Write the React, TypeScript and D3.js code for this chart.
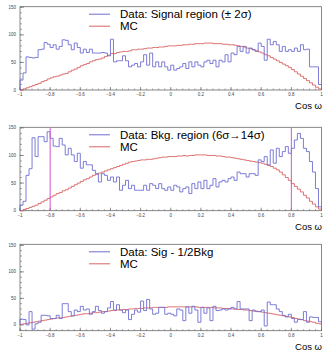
import * as d3 from "d3";

// 100 bins between -1 and 1 (cos omega)
const sigData = [
  18, 31, 60, 59, 58, 59, 73, 74, 86, 83,
  77, 82, 74, 79, 91, 90, 82, 73, 85, 77,
  67, 74, 68, 74, 67, 67, 67, 68, 67, 62,
  92, 51, 53, 53, 62, 53, 42, 45, 48, 42,
  51, 64, 45, 67, 42, 51, 42, 51, 42, 36,
  45, 36, 39, 42, 48, 39, 51, 42, 51, 45,
  42, 51, 54, 48, 54, 42, 54, 51, 64, 51,
  67, 64, 79, 70, 79, 67, 76, 73, 70, 85,
  79, 54, 92, 82, 88, 82, 70, 79, 70, 73,
  70, 76, 70, 82, 73, 74, 42, 42, 42, 10,
];
const sigMC = [
  0, 2, 4, 6, 8, 10, 12, 15, 17, 20,
  22, 24, 25, 27, 29, 30, 33, 36, 38, 41,
  44, 46, 48, 51, 53, 55, 56, 58, 61, 63,
  66, 66, 68, 69, 70, 70, 71, 73, 73, 74,
  74, 75, 76, 76, 77, 77, 78, 78, 79, 80,
  80, 80, 81, 81, 82, 82, 83, 83, 84, 84,
  84, 85, 85, 85, 84, 84, 84, 83, 83, 82,
  82, 81, 80, 79, 78, 76, 75, 73, 71, 69,
  67, 64, 62, 59, 56, 53, 50, 47, 44, 41,
  37, 33, 29, 25, 21, 17, 13, 9, 5, 2,
];
const bkgData = [
  10, 17, 64, 76, 132, 98, 134, 134, 125, 143,
  131, 117, 116, 131, 119, 101, 113, 101, 89, 104,
  77, 89, 83, 83, 73, 67, 52, 67, 64, 55,
  61, 52, 61, 37, 46, 55, 40, 46, 37, 37,
  37, 46, 37, 49, 46, 40, 49, 40, 37, 43,
  37, 46, 43, 34, 40, 43, 31, 49, 40, 52,
  40, 55, 40, 46, 58, 43, 52, 55, 52, 58,
  61, 55, 70, 67, 67, 61, 67, 67, 64, 92,
  89, 98, 83, 110, 86, 113, 98, 107, 116, 104,
  113, 128, 140, 131, 113, 107, 89, 70, 40, 7,
];
const bkgMC = [
  0, 2, 4, 6, 8, 10, 13, 16, 19, 22,
  25, 28, 31, 33, 36, 38, 41, 44, 47, 50,
  53, 56, 58, 61, 64, 66, 68, 70, 72, 74,
  76, 78, 80, 82, 84, 86, 88, 89, 90, 91,
  92, 92, 93, 93, 94, 95, 96, 97, 97, 98,
  98, 98, 99, 99, 100, 99, 100, 100, 101, 101,
  101, 101, 100, 100, 100, 99, 99, 98, 97, 97,
  96, 95, 94, 93, 92, 91, 90, 89, 88, 87,
  86, 84, 82, 80, 77, 74, 70, 65, 60, 55,
  49, 44, 39, 34, 28, 23, 17, 12, 7, 3,
];
const subData = [
  11, 10, 0, 25, -8, 2, 5, 18, 18, 17,
  12, 12, 18, 12, 40, 40, 25, 17, 28, 25,
  35, 28, 30, 20, 25, 35, 27, 22, 25, 32,
  44, 28, 38, 28, 23, 28, 10, 20, 28, 24,
  45, 27, 48, 30, 20, 22, 33, 33, 20, 22,
  20, 17, 30, 28, 8, 34, 22, 35, 28, 5,
  33, 22, 32, 8, 35, 27, 28, 30, 28, 30,
  33, 30, 44, 30, 30, 30, 8, 28, 25, 25,
  28, -2, 43, 38, 38, 30, 25, 18, 15, 20,
  12, 5, 10, 10, 25, 5, 15, 14, 14, 6,
];
const subMC = [
  1, 2, 3, 4, 5, 6, 7, 8, 9, 10,
  11, 12, 13, 13, 14, 15, 16, 17, 18, 19,
  20, 21, 21, 22, 23, 23, 24, 25, 25, 26,
  27, 27, 28, 28, 29, 29, 30, 30, 31, 31,
  31, 32, 32, 32, 33, 33, 33, 33, 33, 34,
  34, 34, 34, 34, 34, 34, 34, 34, 34, 33,
  33, 33, 33, 33, 32, 32, 32, 31, 31, 31,
  30, 30, 29, 29, 28, 28, 27, 26, 26, 25,
  24, 23, 22, 21, 20, 19, 18, 17, 16, 15,
  14, 12, 11, 10, 8, 7, 6, 5, 3, 2,
];

const xTicks = [-1, -0.8, -0.6, -0.4, -0.2, 0, 0.2, 0.4, 0.6, 0.8, 1];
const yTicks = [0, 50, 100, 150];
const cutLines = [-0.8, 0.8];
const legendLabels = [
  "Data: Signal region (\u00b1 2\u03c3)",
  "Data: Bkg. region (6\u03c3\u219214\u03c3)",
  "Data: Sig - 1/2Bkg",
];
const mcLabel = "MC";
const xTitle = "Cos \u03c9";

const DATA_COLOR = "#6e6ed2";
const MC_COLOR = "#d96464";
const CUT_COLOR = "#d055d0";
const AXIS_COLOR = "#6a6a6a";
const FONT = "'Liberation Sans', Arial, sans-serif";

const edges = d3.range(101).map((i) => -1 + i * 0.02);

function histPath(vals: number[], x: d3.ScaleLinear<number, number>, y: d3.ScaleLinear<number, number>) {
  const pts: [number, number][] = [[-1, 0]];
  vals.forEach((v, i) => pts.push([edges[i], v]));
  pts.push([1, vals[vals.length - 1]]);
  pts.push([1, 0]);
  return d3
    .line<[number, number]>()
    .x((d) => x(d[0]))
    .y((d) => y(d[1]))
    .curve(d3.curveStepAfter)(pts) || "";
}

interface PanelProps {
  top: number;
  bottom: number;
  yMin: number;
  yMax: number;
  data: number[];
  mc: number[];
  label: string;
  cuts?: number[];
}

function Panel({ top, bottom, yMin, yMax, data, mc, label, cuts }: PanelProps) {
  const left = 20;
  const right = 321.5;
  const x = d3.scaleLinear().domain([-1, 1]).range([left, right]);
  const y = d3.scaleLinear().domain([yMin, yMax]).range([bottom, top]);

  const minorX = d3.range(0, 51).map((i) => -1 + i * 0.04);
  const minorY = d3.range(Math.ceil(yMin / 10) * 10, yMax, 10);
  const fmt = (v: number) => (Math.abs(v) < 1e-9 ? "0" : d3.format("~g")(+v.toFixed(1)));

  return (
    <g>
      {/* frame */}
      <rect x={left} y={top} width={right - left} height={bottom - top} fill="none" stroke={AXIS_COLOR} strokeWidth={0.8} />

      {/* x ticks */}
      {minorX.map((t, i) => (
        <line key={"mx" + i} x1={x(t)} x2={x(t)} y1={bottom} y2={bottom - 1.5} stroke={AXIS_COLOR} strokeWidth={0.6} />
      ))}
      {xTicks.map((t) => (
        <g key={"x" + t}>
          <line x1={x(t)} x2={x(t)} y1={bottom} y2={bottom - 3} stroke={AXIS_COLOR} strokeWidth={0.7} />
          <text x={x(t)} y={bottom + 6} fontSize={4.5} fill="#444" textAnchor="middle" fontFamily={FONT}>
            {fmt(t)}
          </text>
        </g>
      ))}

      {/* y ticks */}
      {minorY.map((t) => (
        <line key={"my" + t} x1={left} x2={left + 2} y1={y(t)} y2={y(t)} stroke={AXIS_COLOR} strokeWidth={0.6} />
      ))}
      {yTicks.map((t) => (
        <g key={"y" + t}>
          <line x1={left} x2={left + 4} y1={y(t)} y2={y(t)} stroke={AXIS_COLOR} strokeWidth={0.7} />
          <text x={left - 4} y={y(t)} dy="0.35em" fontSize={4.5} fill="#444" textAnchor="end" fontFamily={FONT}>
            {t}
          </text>
        </g>
      ))}

      {/* histograms */}
      <path d={histPath(mc, x, y)} fill="none" stroke={MC_COLOR} strokeWidth={0.9} />
      <path d={histPath(data, x, y)} fill="none" stroke={DATA_COLOR} strokeWidth={0.9} />

      {(cuts || []).map((c) => (
        <line key={"c" + c} x1={x(c)} x2={x(c)} y1={top} y2={bottom} stroke={CUT_COLOR} strokeWidth={1} />
      ))}

      {/* legend */}
      <line x1={89} x2={110} y1={top + 7.5} y2={top + 7.5} stroke={DATA_COLOR} strokeWidth={1} />
      <text x={120} y={top + 7.5} dy="0.35em" fontSize={11.5} fontFamily={FONT} fill="#000">
        {label}
      </text>
      <line x1={89} x2={110} y1={top + 19.5} y2={top + 19.5} stroke={MC_COLOR} strokeWidth={1} />
      <text x={120} y={top + 19.5} dy="0.35em" fontSize={11.5} fontFamily={FONT} fill="#000">
        {mcLabel}
      </text>

      <text x={322} y={bottom + 16} dy="0.35em" fontSize={9.5} fontFamily={FONT} textAnchor="end" fill="#000">
        {xTitle}
      </text>
    </g>
  );
}

export default function App() {
  return (
    <div style={{ position: "absolute", left: 0, top: 0 }}>
      <svg width={323} height={351} style={{ display: "block", background: "#fff" }}>
        <Panel top={6.7} bottom={90} yMin={0} yMax={151} data={sigData} mc={sigMC} label={legendLabels[0]} />
        <Panel top={127.3} bottom={210.7} yMin={0} yMax={151} data={bkgData} mc={bkgMC} label={legendLabels[1]} cuts={cutLines} />
        <Panel top={244.3} bottom={330.7} yMin={-11} yMax={152} data={subData} mc={subMC} label={legendLabels[2]} />
      </svg>
    </div>
  );
}
